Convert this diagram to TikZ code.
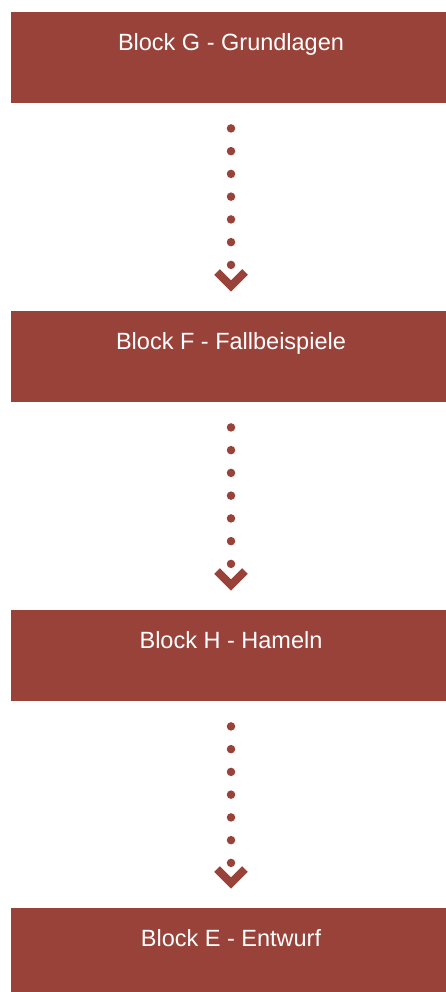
\documentclass[tikz,border=0pt]{standalone}
\usepackage{fontspec}
\setmainfont{Liberation Sans}
\definecolor{blockred}{RGB}{152,66,58}
\begin{document}
\begin{tikzpicture}[x=1pt,y=1pt,
  block/.style={fill=blockred, draw=none, anchor=north, minimum width=440pt,
    inner xsep=0pt, inner ysep=0pt, text=white, text height=38.5pt, text depth=52.5pt,
    font=\fontsize{23.5}{28}\selectfont},
  dots/.style={draw=blockred, line width=8.5pt, line cap=round, dash pattern=on 0pt off 22.75pt},
  chev/.style={draw=blockred, line width=8pt, miter limit=10, line join=miter}
]
\useasboundingbox (0,0) rectangle (446,-992);
\clip (0,0) rectangle (446,-992);
\node[block] (g) at (231,-12) {Block G - Grundlagen};
\node[block] (f) at (231,-311) {Block F - Fallbeispiele};
\node[block] (h) at (231,-610) {Block H - Hameln};
\node[block] (e) at (231,-908) {Block E - Entwurf};
\foreach \a/\b in {g/f, f/h, h/e}{
  \draw[dots] ([yshift=-25pt]\a.south) -- ([yshift=44.5pt]\b.north);
  \draw[chev] ([shift={(-14pt,39pt)}]\b.north) -- ([yshift=25pt]\b.north) -- ([shift={(14pt,39pt)}]\b.north);
}
\end{tikzpicture}
\end{document}
